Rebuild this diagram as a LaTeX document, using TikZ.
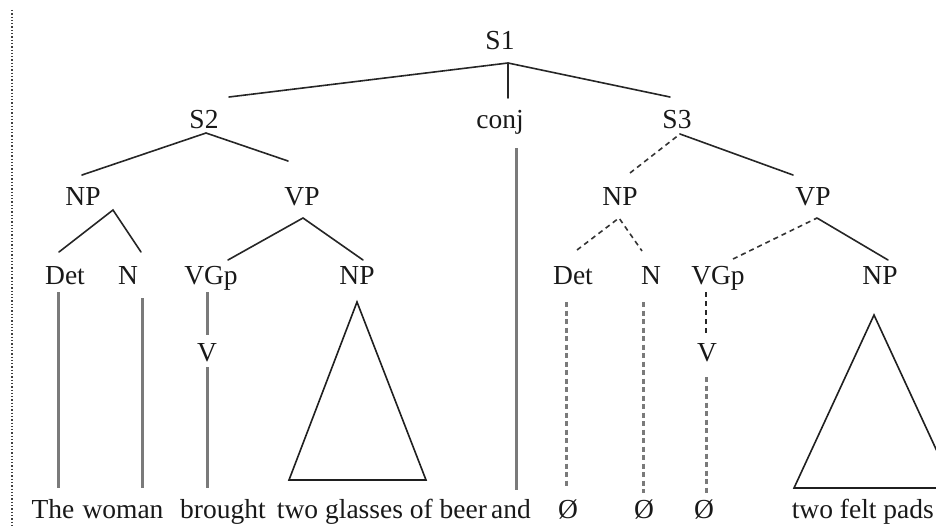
\documentclass[tikz,border=0pt]{standalone}
\usepackage{fontspec}
\setmainfont{Liberation Serif}
\begin{document}
\begin{tikzpicture}[x=1pt,y=-1pt,
  lbl/.style={anchor=base,inner sep=0pt,font=\fontsize{27.5}{31}\selectfont,text=black!90},
  word/.style={lbl},
  branch/.style={line width=1.6pt,draw=black!85,line cap=round},
  gapbranch/.style={line width=1.6pt,draw=black!80,dash pattern=on 5pt off 4pt},
  stem/.style={line width=3pt,draw=black!52},
  gapstem/.style={line width=3pt,draw=black!52,dash pattern=on 5pt off 3.5pt},
  gapstemdark/.style={line width=2.2pt,draw=black!85,dash pattern=on 5pt off 4pt},
  roof/.style={line width=1.6pt,draw=black!88,line join=miter}]
\useasboundingbox (0,0) rectangle (936,527);
\clip (0,0) rectangle (936,527);

% margin rule
\coordinate (ruletop) at (12,10);
\coordinate (rulebot) at (12,527);
\draw[dotted,line width=1.3pt,black!75] (ruletop) -- (rulebot);

% ---- category labels ----
\node[lbl] (S1)   at (500,50)  {S1};
\node[lbl] (S2)   at (204,128) {S2};
\node[lbl] (conj) at (500,128) {conj};
\node[lbl] (S3)   at (677,128) {S3};
\node[lbl] (NPa)  at (83,205)  {NP};
\node[lbl] (VPa)  at (302,205) {VP};
\node[lbl] (NPb)  at (620,205) {NP};
\node[lbl] (VPb)  at (813,205) {VP};
\node[lbl] (Deta) at (65,284)  {Det};
\node[lbl] (Na)   at (128,284) {N};
\node[lbl] (VGpa) at (211,284) {VGp};
\node[lbl] (NPc)  at (357,284) {NP};
\node[lbl] (Detb) at (573,284) {Det};
\node[lbl] (Nb)   at (651,284) {N};
\node[lbl] (VGpb) at (718,284) {VGp};
\node[lbl] (NPd)  at (880,284) {NP};
\node[lbl] (Va)   at (207,361) {V};
\node[lbl] (Vb)   at (707,361) {V};

% ---- terminal words ----
\node[word] (wThe)   at (53,518)  {The};
\node[word] (wWoman) at (123,518) {woman};
\node[word] (wBrought) at (223,518) {brought};
\node[word] (wGlasses) at (382,518) {two glasses of beer};
\node[word] (wAnd)   at (511,518) {and};
\node[word] (wNullA) at (568,518) {Ø};
\node[word] (wNullB) at (644,518) {Ø};
\node[word] (wNullC) at (704,518) {Ø};
\node[word,anchor=base east] (wPads) at (934,518) {two felt pads};

% ---- branch points ----
\coordinate (S1x)   at (508,63);
\coordinate (S2t)   at (229,97);
\coordinate (conjt) at (508,98);
\coordinate (S3t)   at (670,97);
\coordinate (S2x)   at (206,133);
\coordinate (NPat)  at (82,175);
\coordinate (VPat)  at (288,161);
\coordinate (S3x)   at (680,134);
\coordinate (NPbt)  at (630,173);
\coordinate (VPbt)  at (793,175);
\coordinate (NPax)  at (113,210);
\coordinate (Detat) at (59,252);
\coordinate (Nat)   at (141,252);
\coordinate (VPax)  at (303,218);
\coordinate (VGpat) at (228,260);
\coordinate (NPct)  at (363,260);
\coordinate (NPbx)  at (619,218);
\coordinate (Detbt) at (577,250);
\coordinate (Nbt)   at (642,251);
\coordinate (VPbx)  at (817,218);
\coordinate (VGpbt) at (733,259);
\coordinate (NPdt)  at (888,260);

% ---- upper branches ----
\draw[branch] (S2t) -- (S1x) -- (S3t);
\draw[branch] (S1x) -- (conjt);
\draw[branch] (NPat) -- (S2x) -- (VPat);
\draw[gapbranch] (NPbt) -- (S3x);
\draw[branch] (S3x) -- (VPbt);
\draw[branch] (Detat) -- (NPax) -- (Nat);
\draw[branch] (VGpat) -- (VPax) -- (NPct);
\draw[gapbranch] (Detbt) -- (NPbx) -- (Nbt);
\draw[gapbranch] (VGpbt) -- (VPbx);
\draw[branch] (VPbx) -- (NPdt);

% ---- stems down to the words ----
\coordinate (conjs) at (516,148);  \coordinate (conje) at (516,490);
\coordinate (Detas) at (58,292);   \coordinate (Detae) at (58,488);
\coordinate (Nas)   at (142,298);  \coordinate (Nae)   at (142,488);
\coordinate (VGpas) at (207,292);  \coordinate (VGpae) at (207,335);
\coordinate (Vas)   at (207,367);  \coordinate (Vae)   at (207,488);
\coordinate (Detbs) at (566,302);  \coordinate (Detbe) at (566,488);
\coordinate (Nbs)   at (643,302);  \coordinate (Nbe)   at (643,493);
\coordinate (VGpbs) at (706,292);  \coordinate (VGpbe) at (706,333);
\coordinate (Vbs)   at (706,377);  \coordinate (Vbe)   at (706,493);

\draw[stem] (conjs) -- (conje);
\draw[stem] (Detas) -- (Detae);
\draw[stem] (Nas) -- (Nae);
\draw[stem] (VGpas) -- (VGpae);
\draw[stem] (Vas) -- (Vae);
\draw[gapstem] (Detbs) -- (Detbe);
\draw[gapstem] (Nbs) -- (Nbe);
\draw[gapstemdark] (VGpbs) -- (VGpbe);
\draw[gapstem] (Vbs) -- (Vbe);

% ---- roofs over unanalysed phrases ----
\coordinate (roofAtop) at (357,302);
\coordinate (roofAl)   at (289,480);
\coordinate (roofAr)   at (426,480);
\coordinate (roofBtop) at (874,315);
\coordinate (roofBl)   at (794,488);
\coordinate (roofBr)   at (954,488);
\draw[roof] (roofAtop) -- (roofAl) -- (roofAr) -- cycle;
\draw[roof] (roofBtop) -- (roofBl) -- (roofBr) -- cycle;
\end{tikzpicture}
\end{document}
